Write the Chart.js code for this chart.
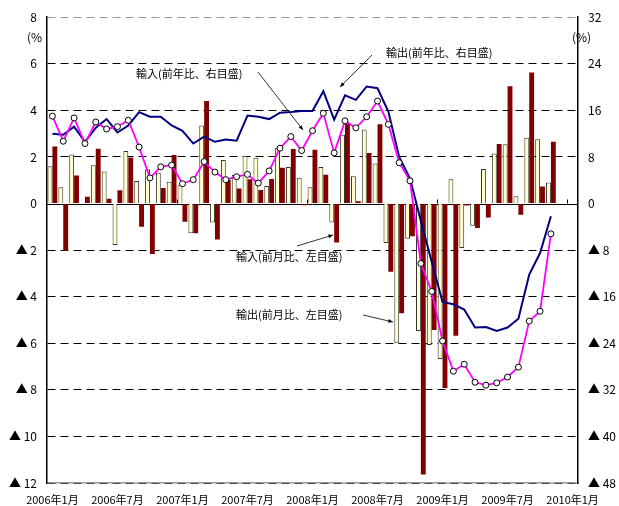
<!DOCTYPE html>
<html>
<head>
<meta charset="utf-8">
<script src="https://cdn.jsdelivr.net/npm/chart.js@4.4.1/dist/chart.umd.min.js"></script>
<style>
  html, body { margin: 0; padding: 0; background: #fff; }
</style>
</head>
<body>
<canvas id="myChart" width="619" height="506"></canvas>
<script>
// months 2006/1 .. 2010/1
const months = [];
for (let yr = 2006; yr <= 2009; yr++) {
  for (let m = 1; m <= 12; m++) months.push(yr + "年" + m + "月");
}
months.push("2010年1月");

// 前月比 (left axis, %)
const exportMoM = [1.6, 0.7, 2.1, 0, 1.64, 1.38, -1.78, 2.25, 0.97, 1.47, 1.32, 0.93,
  0.78, -1.28, 3.35, -0.81, 1.87, 1.22, 2.05, 1.97, 0.75, 2.38, 1.57, 1.11,
  0.7, 1.57, -0.81, 2.95, 1.17, 3.18, 1.72, -1.7, -6.0, -1.51, -5.47, -6.08,
  -6.68, 1.04, -1.91, -0.95, 1.48, 2.15, 2.55, 0.31, 2.82, 2.76, 0.9, null, null];
const importMoM = [2.45, -2.04, 1.2, 0.29, 2.35, 0.21, 0.57, 1.98, -1.0, -2.17, 0.67, 2.08,
  -0.78, -1.28, 4.4, -1.55, 1.01, 0.65, 1.04, 0.58, 1.05, 1.54, 2.34, -0.07,
  2.31, 1.24, -1.67, 3.42, 0.1, 2.17, 3.4, -2.93, -4.71, -1.41, -11.64, -5.43,
  -7.92, -5.68, -0.09, -1.05, -0.6, 2.56, 5.03, -0.48, 5.63, 0.73, 2.65, null, null];

// 前年比 (right axis, %)
const exportYoY = [12.0, 11.8, 13.2, 10.6, 13.0, 14.5, 12.2, 13.4, 15.7, 14.9, 14.9, 13.4,
  12.5, 10.3, 11.5, 10.6, 11.0, 10.8, 15.1, 14.9, 14.5, 15.6, 15.7, 15.9,
  15.9, 19.3, 14.4, 18.6, 17.8, 20.1, 19.8, 15.8, 8.0, 4.3, -3.0, -10.0,
  -16.9, -17.3, -18.2, -21.3, -21.2, -21.9, -21.3, -19.8, -12.2, -8.5, -2.2, null, null];
const importYoY = [15.0, 10.7, 14.7, 10.3, 14.0, 12.8, 13.2, 14.3, 9.7, 4.4, 6.3, 6.6,
  3.4, 4.1, 7.2, 5.4, 4.1, 4.6, 5.0, 3.5, 5.6, 9.5, 11.5, 9.1,
  12.5, 15.5, 8.7, 14.2, 13.0, 14.9, 17.6, 13.6, 7.0, 3.9, -10.3, -15.1,
  -23.6, -28.8, -27.6, -30.7, -31.2, -30.8, -29.8, -28.1, -20.2, -18.5, -5.2, null, null];

const leftRange = [-12, 8];
const rightRange = [-48, 32];

const FONT = "'Noto Sans CJK JP', 'DejaVu Sans', sans-serif";
const tri = (v) => (v < 0 ? "▲ " + (-v) : String(v));

// zero line, year ticks, notes with arrows
const notes = {
  id: "notes",
  beforeDatasetsDraw(chart) {
    const { ctx, chartArea: a, scales } = chart;
    const y0 = scales.y.getPixelForValue(0);
    ctx.save();
    ctx.strokeStyle = "#000";
    ctx.lineWidth = 1;
    ctx.beginPath();
    ctx.moveTo(a.left, Math.round(y0) + 0.5);
    ctx.lineTo(a.right, Math.round(y0) + 0.5);
    const step = (a.right - a.left) / months.length;
    for (let i = 12; i < months.length; i += 12) {
      const xx = Math.round(a.left + i * step) + 0.5;
      ctx.moveTo(xx, y0);
      ctx.lineTo(xx, y0 - 4);
    }
    ctx.stroke();
    ctx.restore();
  },
  afterDraw(chart) {
    const ctx = chart.ctx;
    ctx.save();
    ctx.fillStyle = "#000";
    ctx.font = "11px " + FONT;
    ctx.textBaseline = "middle";
    ctx.textAlign = "left";
    ctx.fillText("輸入(前年比、右目盛)", 136, 74);
    ctx.fillText("輸出(前年比、右目盛)", 386, 53);
    ctx.fillText("輸入(前月比、左目盛)", 236, 257);
    ctx.fillText("輸出(前月比、左目盛)", 236, 315);
    ctx.font = "12px " + FONT;
    ctx.fillText("(%", 27, 37);
    ctx.fillText("(%)", 572, 37);

    const arrow = (x1, y1, x2, y2) => {
      ctx.strokeStyle = "#000";
      ctx.lineWidth = 0.8;
      ctx.beginPath();
      ctx.moveTo(x1, y1);
      ctx.lineTo(x2, y2);
      ctx.stroke();
      const ang = Math.atan2(y2 - y1, x2 - x1);
      ctx.beginPath();
      ctx.moveTo(x2, y2);
      ctx.lineTo(x2 - 5 * Math.cos(ang - 0.4), y2 - 5 * Math.sin(ang - 0.4));
      ctx.lineTo(x2 - 5 * Math.cos(ang + 0.4), y2 - 5 * Math.sin(ang + 0.4));
      ctx.closePath();
      ctx.fill();
    };
    arrow(258, 72, 303, 130);
    arrow(372, 55, 340, 87);
    arrow(297, 246, 333, 235);
    arrow(363, 315, 393, 322);
    ctx.restore();
  },
};

const ctx = document.getElementById("myChart");

new Chart(ctx, {
  data: {
    labels: months,
    datasets: [
      {
        type: "line",
        label: "輸入(前年比、右目盛)",
        data: importYoY,
        yAxisID: "y2",
        borderColor: "#ff00ff",
        borderWidth: 1.8,
        pointRadius: 3,
        pointBackgroundColor: "#fff",
        pointBorderColor: "#000",
        pointBorderWidth: 1,
        order: 0,
      },
      {
        type: "line",
        label: "輸出(前年比、右目盛)",
        data: exportYoY,
        yAxisID: "y2",
        borderColor: "#000080",
        borderWidth: 2,
        pointRadius: 0,
        order: 1,
      },
      {
        type: "bar",
        label: "輸出(前月比、左目盛)",
        data: exportMoM,
        yAxisID: "y",
        backgroundColor: "#ffffcc",
        borderColor: "#333",
        borderWidth: 1,
        categoryPercentage: 0.9,
        barPercentage: 1.0,
        order: 2,
      },
      {
        type: "bar",
        label: "輸入(前月比、左目盛)",
        data: importMoM,
        yAxisID: "y",
        backgroundColor: "#800000",
        borderWidth: 0,
        categoryPercentage: 0.9,
        barPercentage: 1.0,
        order: 2,
      },
    ],
  },
  options: {
    responsive: false,
    animation: false,
    layout: { padding: { top: 15, left: 0, right: 0, bottom: 0 } },
    plugins: {
      legend: { display: false },
      tooltip: { enabled: false },
    },
    scales: {
      x: {
        grid: { display: false },
        border: { display: true, color: "#999", width: 1.5 },
        afterFit: (s) => { s.height = 23; },
        ticks: {
          autoSkip: false,
          maxRotation: 0,
          padding: 2,
          color: "#000",
          font: { family: FONT, size: 11 },
          callback: (v, i) => (i % 6 === 0 ? months[i] : ""),
        },
      },
      y: {
        position: "left",
        min: leftRange[0],
        max: leftRange[1],
        afterFit: (s) => { s.width = 47; },
        grid: {
          color: (c) => (c.tick.value === 8 ? "#999" : c.tick.value === 0 ? "rgba(0,0,0,0)" : "#000"),
          lineWidth: 1,
          drawTicks: false,
        },
        border: { display: true, color: "#000", width: 1.5, dash: [8, 5] },
        ticks: {
          stepSize: 2,
          padding: 10,
          color: "#000",
          font: { family: FONT, size: 12 },
          callback: tri,
        },
      },
      y2: {
        position: "right",
        min: rightRange[0],
        max: rightRange[1],
        afterFit: (s) => { s.width = 41; },
        grid: { display: false, drawTicks: false },
        border: { display: true, color: "#000", width: 1.5 },
        ticks: {
          stepSize: 8,
          padding: 10,
          color: "#000",
          font: { family: FONT, size: 12 },
          callback: tri,
        },
      },
    },
  },
  plugins: [notes],
});
</script>
</body>
</html>
